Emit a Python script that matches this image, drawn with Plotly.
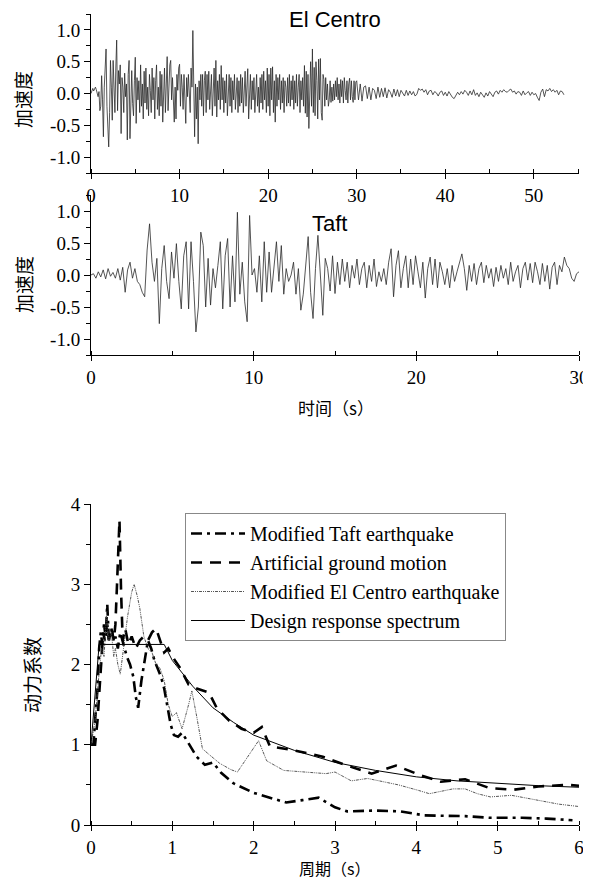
import numpy as np
import plotly.graph_objects as go

# ---------------- data ----------------
# El Centro accelerogram: 0-30 s at 0.1 s, then 30.2-53.4 s at 0.2 s
elcentro_dt1 = 0.1
elcentro_a = [
    0.0, 0.05, 0.08, 0.04, 0.07, 0.1, 0.06, 0.02, -0.05, 0.03,
    -0.27, -0.2, 0.28, -0.1, -0.68, 0.1, 0.45, 0.70, -0.2, -0.5,
    -0.84, -0.3, 0.52, 0.1, -0.42, 0.52, 0.2, -0.3, 0.4, 0.84,
    -0.27, 0.36, 0.15, 0.45, -0.63, 0.25, 0.1, -0.3, 0.32, -0.05,
    0.15, -0.73, 0.3, 0.52, -0.71, 0.1, 0.36, -0.16, -0.35, 0.2,
    0.57, -0.47, 0.25, -0.1, 0.2, -0.3, 0.45, -0.2, 0.15, -0.4,
    0.35, -0.15, 0.4, -0.25, 0.1, -0.35, 0.3, 0.05, -0.3, 0.4,
    -0.1, 0.25, -0.4, 0.2, 0.45, -0.25, 0.1, -0.35, 0.35, -0.2,
    0.3, -0.45, 0.15, 0.4, -0.3, 0.2, 0.58, -0.27, 0.1, 0.45,
    0.52, -0.1, 0.25, -0.35, -0.45, 0.1, -0.4, 0.3, 0.05, 0.4,
    0.46, -0.2, 0.3, 0.1, -0.25, 0.3, -0.1, -0.47, 0.25, -0.05,
    0.3, 0.0, -0.3, 0.4, 0.1, 0.99, 0.2, -0.68, 0.15, -0.4,
    0.1, -0.79, 0.2, -0.1, 0.3, -0.2, 0.3, -0.35, 0.2, 0.35,
    -0.3, 0.3, -0.1, 0.35, -0.25, 0.1, 0.3, -0.35, 0.2, 0.4,
    -0.2, 0.52, -0.37, 0.2, -0.1, 0.3, -0.25, 0.44, -0.1, 0.25,
    -0.3, 0.2, -0.15, 0.3, -0.35, 0.15, 0.3, -0.2, 0.25, -0.3,
    0.2, -0.1, 0.3, -0.25, 0.1, 0.25, -0.3, 0.2, -0.2, 0.3,
    -0.15, 0.25, -0.3, 0.15, 0.35, -0.2, 0.1, 0.39, -0.4, 0.1,
    0.3, -0.25, 0.2, -0.1, 0.25, -0.3, 0.15, 0.3, -0.2, 0.1,
    -0.3, 0.25, -0.15, 0.3, -0.25, 0.35, -0.1, 0.2, -0.3, 0.4,
    -0.2, 0.3, -0.35, 0.4, -0.1, 0.42, -0.3, 0.2, -0.45, 0.3,
    -0.2, 0.25, -0.1, 0.3, -0.25, 0.2, -0.15, 0.25, -0.3, 0.2,
    0.1, -0.2, 0.25, -0.15, 0.3, -0.2, 0.2, -0.1, 0.28, -0.25,
    0.2, -0.15, 0.3, -0.2, 0.1, 0.3, -0.3, 0.2, -0.1, 0.25,
    -0.2, 0.44, -0.31, 0.35, -0.37, 0.3, -0.55, 0.2, 0.5, -0.2,
    0.7, -0.3, 0.41, -0.35, 0.5, 0.2, -0.4, 0.54, -0.1, 0.55,
    -0.3, -0.42, 0.3, 0.22, -0.2, 0.25, -0.1, 0.15, -0.2, -0.1,
    0.2, -0.14, 0.1, -0.12, 0.15, -0.1, 0.2, -0.05, 0.25, -0.1,
    0.15, -0.15, 0.22, -0.05, 0.2, -0.15, 0.25, 0.05, -0.1, 0.2,
    -0.15, 0.15, 0.24, -0.1, 0.2, -0.05, -0.14, 0.2, -0.1, 0.18,
    0.2,
]
elcentro_dt2 = 0.2
elcentro_b = [
    -0.1, 0.15, -0.12, 0.1, 0.12, -0.08, 0.1, -0.1, 0.08, 0.05,
    -0.08, 0.1, -0.06, 0.08, -0.05, 0.09, -0.07, 0.06, 0.02, -0.06,
    0.07, -0.04, 0.06, -0.05, 0.05, 0.0, -0.04, 0.05, -0.03, 0.04,
    -0.02, 0.03, -0.04, -0.01, 0.08, 0.05, 0.07, 0.02, 0.06, -0.02,
    0.04, 0.05, -0.02, 0.03, 0.01, -0.04, 0.02, 0.04, -0.03, 0.02,
    -0.04, 0.03, -0.02, -0.06, -0.08, -0.03, 0.02, -0.02, 0.03, -0.01,
    0.05, 0.02, -0.03, 0.04, -0.02, 0.06, -0.03, 0.01, -0.05, 0.02,
    -0.03, -0.06, 0.01, -0.04, 0.03, -0.02, -0.05, 0.02, 0.04, -0.01,
    0.05, 0.02, 0.06, 0.03, 0.02, 0.05, 0.07, 0.02, 0.04, -0.01,
    0.03, 0.02, -0.03, 0.04, -0.02, 0.01, 0.03, -0.03, 0.02, -0.02,
    0.0, -0.06, -0.11, 0.02, 0.07, -0.05, 0.06, 0.04, 0.08, 0.03,
    0.06, 0.02, 0.05, -0.02, 0.04, 0.03, -0.02,
]

# Taft accelerogram: 0-30 s at 0.15 s
taft_dt = 0.15
taft_acc = [
    0.0, 0.02, -0.05, 0.05, -0.03, 0.08, -0.06, 0.1, -0.02, 0.04,
    -0.05, 0.1, -0.08, 0.12, -0.27, 0.08, 0.2, -0.05, 0.1, -0.1,
    -0.15, -0.27, -0.34, 0.39, 0.8, 0.2, -0.1, 0.26, -0.76, 0.1,
    0.46, -0.1, -0.37, 0.36, -0.05, 0.49, -0.1, -0.53, 0.3, 0.52,
    -0.53, 0.52, -0.1, -0.89, -0.5, 0.67, 0.46, -0.5, 0.26, -0.47,
    0.1, -0.2, 0.15, 0.52, -0.53, 0.3, 0.57, -0.5, 0.3, -0.42,
    0.98, -0.3, 0.2, -0.42, -0.73, 0.93, 0.0, 0.1, -0.27, 0.3,
    -0.42, 0.52, -0.27, 0.36, -0.27, 0.15, 0.52, -0.1, 0.46, -0.3,
    0.1, -0.1, 0.0, 0.2, -0.3, 0.1, -0.55, -0.3, 0.2, 0.6,
    -0.27, -0.68, 0.1, 0.62, 0.0, -0.63, 0.26, 0.1, -0.25, 0.3,
    -0.29, 0.2, -0.15, 0.25, -0.1, 0.2, -0.2, 0.15, -0.05, 0.25,
    -0.15, 0.1, 0.2, -0.2, 0.15, -0.1, 0.25, -0.18, 0.05, -0.1,
    0.1, -0.15, 0.2, 0.41, -0.34, 0.15, 0.38, -0.2, 0.1, 0.3,
    -0.2, 0.25, -0.15, 0.3, 0.05, -0.2, 0.2, -0.36, 0.1, 0.28,
    -0.15, 0.25, -0.2, 0.2, 0.05, -0.15, 0.1, -0.2, 0.15, -0.1,
    0.05, 0.2, 0.33, 0.1, -0.24, 0.15, -0.1, 0.18, -0.15, 0.1,
    0.2, -0.12, 0.15, -0.05, 0.1, -0.18, 0.12, -0.1, 0.15, -0.05,
    0.1, -0.15, 0.2, -0.1, 0.05, 0.15, -0.2, 0.1, 0.2, -0.08,
    0.18, -0.12, 0.2, 0.05, -0.15, 0.18, -0.1, 0.15, -0.22, 0.12,
    0.2, -0.15, 0.15, 0.05, 0.28, 0.15, 0.1, -0.05, -0.1, 0.02,
    0.05,
]

# Response spectra (period T in s, dynamic coefficient)
taft_T = [0, 0.03, 0.05, 0.08, 0.1, 0.12, 0.14, 0.16, 0.18, 0.2, 0.22, 0.25, 0.28,
          0.3, 0.33, 0.36, 0.4, 0.44, 0.48, 0.52, 0.55, 0.58, 0.62, 0.66, 0.7,
          0.74, 0.78, 0.82, 0.86, 0.9, 0.94, 0.98, 1.02, 1.07, 1.12, 1.2, 1.3,
          1.4, 1.5, 1.6, 1.75, 2.0, 2.2, 2.4, 2.6, 2.8, 3.0, 3.15, 3.5, 3.8,
          4.1, 4.4, 4.6, 4.9, 5.3, 5.6, 5.92]
taft_beta = [1.0, 1.0, 1.3, 1.7, 2.2, 2.4, 2.25, 2.5, 2.35, 2.75, 2.3, 2.45, 2.3,
             2.35, 2.2, 2.4, 2.25, 2.1, 2.0, 1.85, 1.6, 1.46, 1.8, 2.05, 2.3,
             2.2, 2.05, 1.95, 1.85, 1.7, 1.45, 1.25, 1.12, 1.1, 1.15, 1.02, 0.85,
             0.75, 0.78, 0.65, 0.52, 0.4, 0.34, 0.28, 0.31, 0.34, 0.22, 0.17, 0.18, 0.17,
             0.12, 0.11, 0.11, 0.09, 0.09, 0.08, 0.06]

art_T = [0, 0.05, 0.08, 0.1, 0.13, 0.15, 0.17, 0.2, 0.22, 0.25, 0.28, 0.3, 0.32,
         0.35, 0.37, 0.39, 0.42, 0.46, 0.5, 0.55, 0.6, 0.65, 0.7, 0.75, 0.8,
         0.85, 0.9, 0.95, 1.0, 1.1, 1.2, 1.3, 1.45, 1.55, 1.7, 1.85, 2.0, 2.1,
         2.2, 2.5, 2.85, 3.15, 3.45, 3.75, 4.05, 4.3, 4.6, 4.9, 5.2, 5.5, 5.85, 6.0]
art_beta = [1.0, 1.0, 1.3, 1.6, 2.1, 2.4, 2.3, 2.5, 2.3, 2.45, 2.3, 2.5, 3.0,
            3.8, 2.9, 2.3, 2.45, 2.25, 2.35, 2.2, 2.3, 2.35, 2.3, 2.4, 2.45,
            2.3, 2.15, 2.2, 2.1, 1.95, 1.75, 1.7, 1.65, 1.45, 1.3, 1.2, 1.15, 1.22,
            0.98, 0.93, 0.85, 0.74, 0.64, 0.74, 0.62, 0.54, 0.57, 0.46, 0.44, 0.48, 0.5, 0.49]

elc_T = [0, 0.05, 0.1, 0.13, 0.16, 0.19, 0.22, 0.25, 0.28, 0.3, 0.33, 0.36, 0.4,
         0.45, 0.5, 0.53, 0.57, 0.6, 0.65, 0.7, 0.75, 0.8, 0.85, 0.9, 0.95, 1.0,
         1.05, 1.12, 1.2, 1.24, 1.3, 1.37, 1.45, 1.58, 1.72, 1.8, 2.06, 2.16,
         2.37, 2.6, 2.89, 3.0, 3.2, 3.4, 3.78, 4.03, 4.16, 4.45, 4.6, 4.75,
         4.91, 5.17, 5.48, 5.75, 6.0]
elc_beta = [1.0, 1.3, 1.9, 2.2, 2.1, 2.6, 2.3, 2.4, 2.1, 2.2, 2.0, 1.88, 2.2,
            2.6, 2.9, 3.0, 2.85, 2.7, 2.35, 2.2, 2.15, 2.0, 1.95, 1.8, 1.5, 1.35,
            1.4, 1.2, 1.5, 1.67, 1.35, 0.95, 0.88, 0.77, 0.69, 0.66, 1.05, 0.8,
            0.68, 0.66, 0.64, 0.66, 0.55, 0.58, 0.5, 0.43, 0.39, 0.45, 0.45, 0.39,
            0.35, 0.37, 0.31, 0.26, 0.23]

design_T = [0, 0.1, 0.9, 1.0, 1.25, 1.5, 1.75, 2.0, 2.5, 3.0, 3.5, 4.0, 4.5, 5.0, 5.5, 6.0]
design_beta = [1.0, 2.25, 2.25, 2.05, 1.73, 1.46, 1.28, 1.12, 0.93, 0.78, 0.68, 0.6,
               0.55, 0.52, 0.49, 0.47]

legend_names = ["Modified Taft earthquake", "Artificial ground motion",
                "Modified El Centro earthquake", "Design response spectrum"]

# ---------------- figure ----------------
# the page body adds an 8px margin; the figure is sized so the page is 591x888
OFF = 8
W, H = 591 - OFF, 888 - 2 * OFF
RIGHT = 579  # right end of the time-history axes (page px)
ML, MR, MT, MB = 91 - OFF, W - (RIGHT - OFF), 14 - OFF, H - (825 - OFF)
PW, PH = W - ML - MR, H - MT - MB


def px2x(px):  # px: screen pixel in the 591x888 page
    return (px - OFF - ML) / PW


def px2y(py):
    return (H - MB - (py - OFF)) / PH


SERIF = "Liberation Serif, Times New Roman, serif"
SANS = "Liberation Sans, Arial, sans-serif"
CJK = "Noto Sans CJK SC"

t_a = np.arange(len(elcentro_a)) * elcentro_dt1
t_b = t_a[-1] + (np.arange(len(elcentro_b)) + 1) * elcentro_dt2
t_elc = np.concatenate([t_a, t_b])
a_elc = np.array(elcentro_a + elcentro_b)
t_taft = np.arange(len(taft_acc)) * taft_dt

fig = go.Figure()
fig.add_trace(go.Scatter(x=t_elc, y=a_elc, mode="lines", xaxis="x", yaxis="y",
                         line=dict(color="#2a2a2a", width=0.8), showlegend=False))
fig.add_trace(go.Scatter(x=t_taft, y=taft_acc, mode="lines", xaxis="x2", yaxis="y2",
                         line=dict(color="#2a2a2a", width=0.8), showlegend=False))

fig.add_trace(go.Scatter(x=taft_T, y=taft_beta, mode="lines", xaxis="x3", yaxis="y3",
                         name=legend_names[0],
                         line=dict(color="black", width=2.6, dash="11px,5px,3px,5px")))
fig.add_trace(go.Scatter(x=art_T, y=art_beta, mode="lines", xaxis="x3", yaxis="y3",
                         name=legend_names[1],
                         line=dict(color="black", width=2.6, dash="11px,8px")))
fig.add_trace(go.Scatter(x=elc_T, y=elc_beta, mode="lines", xaxis="x3", yaxis="y3",
                         name=legend_names[2],
                         line=dict(color="#444", width=0.9, dash="3px,1px,1px,1px,1px,1px")))
fig.add_trace(go.Scatter(x=design_T, y=design_beta, mode="lines", xaxis="x3", yaxis="y3",
                         name=legend_names[3],
                         line=dict(color="black", width=1)))

tickfont = dict(family=SERIF, size=19, color="black")


def xax(rng, dtick, minor_dtick, domain, anchor):
    return dict(range=rng, domain=domain, anchor=anchor, dtick=dtick, tick0=0,
                automargin=False,
                showline=True, linecolor="black", linewidth=1, mirror=False,
                ticks="outside", ticklen=5, tickwidth=1, tickcolor="black",
                minor=dict(dtick=minor_dtick, tick0=0, ticks="inside", ticklen=4,
                           tickwidth=1, tickcolor="black"),
                showgrid=False, zeroline=False, tickfont=tickfont)


def yax(rng, tickvals, ticktext, minor_dtick, domain, anchor):
    return dict(range=rng, domain=domain, anchor=anchor, tickvals=tickvals,
                ticktext=ticktext, automargin=False,
                showline=True, linecolor="black", linewidth=1, mirror=False,
                ticks="outside", ticklen=6, tickwidth=1, tickcolor="black",
                minor=dict(dtick=minor_dtick, tick0=0, ticks="outside", ticklen=4,
                           tickwidth=1, tickcolor="black"),
                showgrid=False, zeroline=False, tickfont=tickfont)


acc_ticks = [-1.0, -0.5, 0.0, 0.5, 1.0]
acc_text = ["-1.0", "-0.5", "0.0", "0.5", "1.0"]

dom_top = [px2y(173), px2y(14)]
dom_mid = [px2y(355), px2y(195)]
dom_bot = [px2y(825), px2y(504)]

fig.update_layout(
    width=W, height=H,
    margin=dict(l=ML, r=MR, t=MT, b=MB, autoexpand=False),
    paper_bgcolor="white", plot_bgcolor="white",
    xaxis=xax([0, 55.1], 10, 5, [0, 1], "y"),
    yaxis=yax([-1.25, 1.25], acc_ticks, acc_text, 0.25, dom_top, "x"),
    xaxis2=xax([0, 30.0], 10, 5, [0, 1], "y2"),
    yaxis2=yax([-1.25, 1.25], acc_ticks, acc_text, 0.25, dom_mid, "x2"),
    xaxis3=xax([0, 6], 1, 0.5, [0, 1], "y3"),
    yaxis3=yax([0, 4], [0, 1, 2, 3, 4], ["0", "1", "2", "3", "4"], 0.5, dom_bot, "x3"),
    legend=dict(x=px2x(185), y=px2y(513), xanchor="left", yanchor="top",
                bordercolor="#888", borderwidth=1, bgcolor="white",
                font=dict(family=SERIF, size=20, color="black"),
                itemwidth=54, tracegroupgap=0),
    showlegend=True,
)

annots = [
    dict(text="El Centro", x=27.5, y=1.17, xref="x", yref="y",
         font=dict(family=SANS, size=22, color="black")),
    dict(text="Taft", x=14.65, y=0.81, xref="x2", yref="y2",
         font=dict(family=SANS, size=22, color="black")),
    dict(text="加速度", x=px2x(23), y=px2y(100), xref="paper", yref="paper",
         textangle=-90, font=dict(family=CJK, size=19, color="black")),
    dict(text="加速度", x=px2x(23), y=px2y(285), xref="paper", yref="paper",
         textangle=-90, font=dict(family=CJK, size=19, color="black")),
    dict(text="时间（s）", x=px2x(336), y=px2y(407), xref="paper", yref="paper",
         font=dict(family=CJK, size=17, color="black")),
    dict(text="动力系数", x=px2x(31), y=px2y(675), xref="paper", yref="paper",
         textangle=-90, font=dict(family=CJK, size=19, color="black")),
    dict(text="周期（s）", x=px2x(335), y=px2y(868), xref="paper", yref="paper",
         font=dict(family=CJK, size=16, color="black")),
]
for a in annots:
    a.update(showarrow=False, xanchor="center", yanchor="middle")
fig.update_layout(annotations=annots)

fig.write_html("out.html")
